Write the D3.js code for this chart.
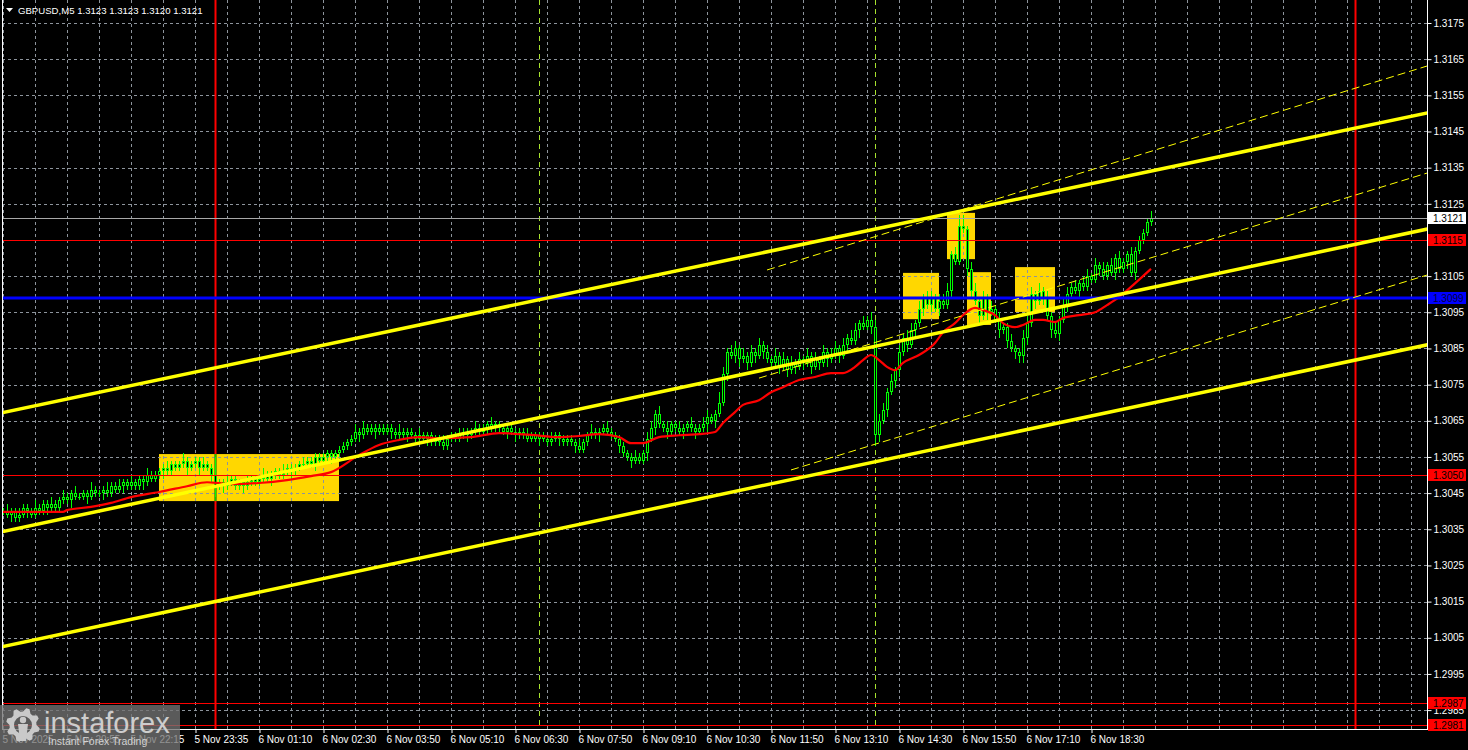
<!DOCTYPE html>
<html><head><meta charset="utf-8">
<script src="https://cdn.jsdelivr.net/npm/d3@7"></script>
<style>html,body{margin:0;padding:0;background:#000;overflow:hidden}svg{display:block}</style>
</head><body><svg id="c" width="1468" height="750"></svg>
<script>
// ---------------- DATA ----------------
const chartTitle = "GBPUSD,M5  1.3123 1.3123 1.3120 1.3121";
const basePrice = 1.3000;          // closes/wicks below are in pips above this
const firstOpen = 40;
const closes = [
  40,39,40,38,39,41,40,39, 41,40,42,41,42,41,43,44, 43,45,44,44,45,44,46,45, 45,46,45,47,46,47,48,47,
  48,47,49,48,50,49,50,51, 52,51,53,52,53,54,52,53, 54,52,53,52,50,47,48,47, 48,49,47,48,47,48,49,48,
  49,50,49,50,51,50,51,52, 51,52,53,53,54,53,55,54, 55,56,55,56,57,58,59,60, 62,61,63,62,63,62,63,62,
  63,62,61,62,61,62,61,60, 61,60,61,59,60,59,58,60, 61,60,61,62,61,62,63,62, 63,64,63,64,63,62,63,62,
  61,62,61,60,61,60,61,60, 59,60,61,60,59,60,59,58, 57,59,61,62,61,62,63,62, 61,60,58,56,55,54,55,54,
  56,60,63,67,64,63,62,64, 63,62,63,64,63,62,63,64, 66,65,67,70,78,84,83,85, 82,83,81,84,83,86,84,82,
  81,83,80,82,79,81,80,82, 81,83,80,82,81,84,82,83, 85,83,86,88,87,90,92,91, 93,91,61,65,68,73,76,79,
  84,88,86,90,92,96,99,97, 99,96,98,97,101,111,109,119, 118,107,101,98,94,99,95,96, 93,90,91,87,85,84,83,88,
  92,100,98,101,99,94,90,89, 93,97,100,102,101,103,102,105, 104,108,107,105,108,106,110,107, 109,111,106,112,115,117,120,121
];
const upWicks = [
  1,2,1,1,2,1,1,1,2,1,1,1,2,1,1,2, 1,1,2,1,1,1,2,1,1,1,2,1,1,2,1,1,
  2,1,1,1,2,1,1,1,1,2,1,1,1,2,1,1, 1,1,2,1,1,5,1,1,2,1,1,1,1,2,1,1,
  1,2,1,1,1,1,2,1,1,1,1,2,1,1,1,1, 1,1,1,1,1,1,1,1,2,1,2,1,1,1,1,1,
  1,1,1,2,1,1,1,1,2,1,1,1,1,1,2,1, 1,1,2,1,1,1,2,1,1,1,2,1,1,1,1,1,
  1,1,1,2,1,1,1,1,1,2,1,1,1,1,1,1, 2,1,1,2,1,1,1,2,1,1,1,1,1,1,2,1,
  1,2,2,1,2,1,2,1,1,2,1,1,2,1,1,2, 2,1,1,3,2,1,2,2,1,2,1,2,1,2,1,2,
  1,2,1,2,1,2,1,2,1,2,1,2,1,2,1,2, 2,1,2,1,2,2,1,2,1,2,2,2,2,1,2,1,
  2,1,2,2,1,2,1,2,2,1,2,2,2,1,2,3, 3,1,2,2,1,2,1,2,1,2,1,1,2,1,1,2,
  2,2,1,2,1,2,1,2,1,2,2,1,2,1,2,2, 1,2,1,2,1,2,1,2,1,1,2,1,1,1,1,2
];
const lowWicks = [
  1,1,2,1,1,1,2,1,1,1,1,2,1,1,1,1, 1,2,1,1,1,2,1,1,1,2,1,1,1,1,2,1,
  1,1,1,2,1,1,1,1,2,1,1,1,1,1,2,1, 1,2,1,1,2,3,1,2,1,1,1,1,2,1,1,1,
  1,1,1,2,1,1,1,1,2,1,1,1,1,1,2,1, 1,1,2,1,1,1,1,1,1,2,1,1,1,2,1,1,
  1,2,1,1,1,2,1,1,1,1,2,1,1,1,1,1, 1,1,1,1,2,1,1,1,1,2,1,1,1,1,2,1,
  2,1,1,1,1,1,2,1,1,1,1,2,1,1,1,2, 1,1,1,1,1,2,1,1,1,1,2,1,1,2,1,1,
  1,2,1,2,1,1,2,1,1,1,2,1,1,2,1,1, 2,1,2,1,1,2,1,2,2,1,2,1,2,1,2,1,
  2,1,2,1,2,1,2,1,2,1,2,1,2,1,2,1, 1,2,1,2,1,1,2,1,1,2,3,2,1,2,1,2,
  2,1,2,1,2,1,2,1,2,1,2,1,1,2,1,1, 1,2,2,1,2,1,2,1,1,2,1,2,1,2,2,2,
  2,1,2,1,2,1,2,1,2,1,2,1,1,2,1,1, 1,1,2,1,1,1,2,1,1,2,1,2,1,1,1,1
];
// moving average readings: [bar index, pips above basePrice]
const maReadings = [
  [0,39.8],[15,39.8],[16,40.3],[22,41.2],[27,42.3],[32,43.9],[39,45.3],[46,46.9],[51,48.0],[54,47.8],
  [57,47.5],[64,47.8],[71,48.6],[77,49.7],[82,50.8],[89,55.5],[94,58.3],[99,59.7],[104,60.5],[109,60.2],
  [117,60.5],[124,61.6],[132,61.1],[139,60.5],[144,60.8],[149,61.3],[154,60.5],[157,58.8],[160,58.8],[164,60.5],
  [169,61.0],[174,61.3],[178,61.9],[180,64.4],[183,67.4],[185,69.4],[189,70.7],[192,72.9],[195,74.3],[199,76.3],
  [203,77.1],[207,78.2],[210,78.2],[213,79.9],[215,81.8],[217,83.2],[219,81.8],[221,79.9],[223,79.0],[225,81.0],
  [229,83.2],[233,86.5],[235,89.5],[238,92.0],[240,94.2],[243,96.2],[245,95.6],[248,94.2],[250,92.0],[253,90.9],
  [255,91.5],[258,92.9],[260,92.9],[263,92.3],[265,93.4],[269,94.2],[273,95.0],[276,97.0],[279,99.2],[283,103.0],[287,107.0]
];
const timeLabels = ["5 Nov 2025","5 Nov 20:55","5 Nov 22:15","5 Nov 23:35","6 Nov 01:10","6 Nov 02:30",
  "6 Nov 03:50","6 Nov 05:10","6 Nov 06:30","6 Nov 07:50","6 Nov 09:10","6 Nov 10:30","6 Nov 11:50",
  "6 Nov 13:10","6 Nov 14:30","6 Nov 15:50","6 Nov 17:10","6 Nov 18:30"];
const timeLabelBars = [0,16,32,48,64,80,96,112,128,144,160,176,192,208,224,240,256,272];
const priceTicks = [1.2985,1.2995,1.3005,1.3015,1.3025,1.3035,1.3045,1.3055,1.3065,1.3075,1.3085,
  1.3095,1.3105,1.3115,1.3125,1.3135,1.3145,1.3155,1.3165,1.3175];
const levelPrices = [1.3121, 1.3115, 1.3099, 1.3050, 1.2987, 1.2981];
const levelKinds  = ["bid","red","blue","red","red","red"];
const daySeparatorBars = [53, 338];
const markerBars = [134, 218];
// zones: [fromBar, toBar, topPrice, bottomPrice]
const zones = [[39,84,1.30558,1.30428],[225,234,1.31059,1.30931],[236,243,1.31225,1.31097],
  [241,247,1.31061,1.30915],[253,263,1.31075,1.30951]];
// channel lines: [bar1, price1, bar2, price2]
const channelLines = [[0,1.30673,356,1.31501],[0,1.30344,356,1.31180],[0,1.30026,356,1.30860]];
const guideLines = [[191,1.31067,356,1.31631],[189,1.30768,356,1.31335],[197,1.30514,356,1.31053]];

// ---------------- DRAW ----------------
const W = 1468, H = 750;
const plotL = 2, plotR = 1427, plotB = 729;
const svg = d3.select("#c");
const x = d3.scaleLinear().domain([0, 356]).range([3, 1427]);
const y = d3.scaleLinear().domain([1.2985, 1.3175]).range([710.1, 23]);
const px = p => basePrice + p / 10000;
const font = "'Liberation Sans', Arial, sans-serif";
const rd = v => Math.round(v) + 0.5;

svg.append("rect").attr("width", W).attr("height", H).attr("fill", "#000");
svg.append("defs").append("clipPath").attr("id", "plot")
  .append("rect").attr("x", plotL).attr("y", 0).attr("width", plotR - plotL).attr("height", plotB);
const g = svg.append("g").attr("clip-path", "url(#plot)");

// zones (background)
g.selectAll("rect.zone").data(zones).join("rect").attr("class", "zone")
  .attr("x", d => x(d[0])).attr("width", d => x(d[1]) - x(d[0]))
  .attr("y", d => y(d[2])).attr("height", d => y(d[3]) - y(d[2]))
  .attr("fill", "#ffd700");

// grid
const gridColor = "#8d949c";
g.selectAll("line.hg").data(priceTicks).join("line")
  .attr("x1", plotL).attr("x2", plotR).attr("y1", d => rd(y(d))).attr("y2", d => rd(y(d)))
  .attr("stroke", gridColor).attr("stroke-width", 1).attr("stroke-dasharray", "3,3");
g.selectAll("line.vg").data(d3.range(0, 357, 8)).join("line")
  .attr("x1", d => rd(x(d))).attr("x2", d => rd(x(d))).attr("y1", 0).attr("y2", plotB)
  .attr("stroke", gridColor).attr("stroke-width", 1).attr("stroke-dasharray", "3,3");

// day separators
g.selectAll("line.sep").data(daySeparatorBars).join("line")
  .attr("x1", d => x(d) + 0.5).attr("x2", d => x(d) + 0.5).attr("y1", 0).attr("y2", plotB)
  .attr("stroke", "#ff0000").attr("stroke-width", 2);
// separator through zone renders green (MT4 background blending)
daySeparatorBars.forEach(b => zones.forEach(z => {
  if (b >= z[0] && b <= z[1]) {
    g.append("line").attr("x1", x(b) + 0.5).attr("x2", x(b) + 0.5)
      .attr("y1", y(z[2])).attr("y2", y(z[3])).attr("stroke", "#00d400").attr("stroke-width", 2);
  }
}));
// marker lines
g.selectAll("line.mk").data(markerBars).join("line")
  .attr("x1", d => rd(x(d))).attr("x2", d => rd(x(d))).attr("y1", 0).attr("y2", plotB)
  .attr("stroke", "#a6e22e").attr("stroke-width", 1).attr("stroke-dasharray", "5,4");

const levelStroke = {bid: "#a8a8a8", red: "#ff0000", blue: "#0000ff"};
const levelWidth = {bid: 1, red: 1, blue: 3};

// candles
const bars = closes.map((c, i) => {
  const o = i === 0 ? firstOpen : closes[i - 1];
  const top = Math.max(o, c), bot = Math.min(o, c);
  return {i, o, c, top, bot, hi: top + upWicks[i], lo: bot - lowWicks[i]};
});
const cg = g.append("g").attr("shape-rendering", "crispEdges");
bars.forEach(b => {
  const cx = Math.round(x(b.i));
  const yh = Math.round(y(px(b.hi))), yl = Math.round(y(px(b.lo)));
  const yt = Math.round(y(px(b.top))), yb = Math.round(y(px(b.bot)));
  cg.append("rect").attr("x", cx).attr("width", 1).attr("y", yh).attr("height", Math.max(1, yl - yh)).attr("fill", "#00ff00");
  const h = Math.max(1, yb - yt);
  cg.append("rect").attr("x", cx - 1).attr("width", 3).attr("y", yt).attr("height", h).attr("fill", "#00ff00");
  if (h > 2) cg.append("rect").attr("x", cx).attr("width", 1).attr("y", yt + 1).attr("height", h - 2).attr("fill", "#000");
});

// moving average
g.append("path").datum(maReadings)
  .attr("d", d3.line().x(d => x(d[0])).y(d => y(px(d[1]))).curve(d3.curveMonotoneX))
  .attr("fill", "none").attr("stroke", "#ff0000").attr("stroke-width", 2.2);

// levels
g.selectAll("line.lvl").data(levelPrices).join("line")
  .attr("x1", plotL).attr("x2", plotR)
  .attr("y1", (d, i) => levelKinds[i] === "blue" ? Math.round(y(d)) : rd(y(d)))
  .attr("y2", (d, i) => levelKinds[i] === "blue" ? Math.round(y(d)) : rd(y(d)))
  .attr("stroke", (d, i) => levelStroke[levelKinds[i]])
  .attr("stroke-width", (d, i) => levelWidth[levelKinds[i]]);

// channel lines (extended across the plot)
const extend = (l, b) => l[1] + (l[3] - l[1]) * (b - l[0]) / (l[2] - l[0]);
g.selectAll("line.ch").data(channelLines).join("line")
  .attr("x1", x(-2)).attr("y1", d => y(extend(d, -2)))
  .attr("x2", x(357)).attr("y2", d => y(extend(d, 357)))
  .attr("stroke", "#ffff00").attr("stroke-width", 3.5);
g.selectAll("line.gd").data(guideLines).join("line")
  .attr("x1", d => x(d[0])).attr("y1", d => y(d[1]))
  .attr("x2", d => x(357)).attr("y2", d => y(extend(d, 357)))
  .attr("stroke", "#ffff00").attr("stroke-width", 1).attr("stroke-dasharray", "8,4");

// borders
svg.append("line").attr("x1", 2.5).attr("x2", 2.5).attr("y1", 0).attr("y2", plotB + 0.5).attr("stroke", "#fff");
svg.append("line").attr("x1", plotR + 0.5).attr("x2", plotR + 0.5).attr("y1", 0).attr("y2", plotB + 0.5).attr("stroke", "#fff");
svg.append("line").attr("x1", 2).attr("x2", plotR + 1).attr("y1", plotB + 0.5).attr("y2", plotB + 0.5).attr("stroke", "#fff");

// right axis
const ay = svg.append("g").attr("transform", `translate(${plotR + 0.5},0)`)
  .call(d3.axisRight(y).tickValues(priceTicks).tickFormat(d3.format(".4f")).tickSize(4).tickPadding(2));
ay.select(".domain").remove();
ay.selectAll("line").attr("stroke", "#fff");
ay.selectAll("text").attr("fill", "#fff").attr("font-family", font).attr("font-size", "10px");

// level labels
const boxFill = {bid: "#ffffff", red: "#ff0000", blue: "#0000ff"};
const lb = svg.selectAll("g.lb").data(levelPrices).join("g")
  .attr("transform", d => `translate(${plotR + 1},${Math.round(y(d))})`);
lb.append("rect").attr("x", 0).attr("y", -6).attr("width", 38).attr("height", 12)
  .attr("fill", (d, i) => boxFill[levelKinds[i]]);
lb.append("text").attr("x", 5).attr("y", 4).text(d => d.toFixed(4))
  .attr("fill", (d, i) => levelKinds[i] === "blue" ? "#000040" : "#000")
  .attr("font-family", font).attr("font-size", "10px");

// bottom axis
const ax = svg.append("g").attr("transform", `translate(0,${plotB})`)
  .call(d3.axisBottom(x).tickValues(timeLabelBars).tickFormat((d, i) => timeLabels[i]).tickSize(4).tickPadding(3));
ax.select(".domain").remove();
ax.selectAll("line").attr("stroke", "#fff").attr("transform", "translate(0.5,0)");
ax.selectAll("text").attr("fill", "#fff").attr("font-family", font).attr("font-size", "10px")
  .attr("text-anchor", "start").attr("x", -1);

// title
svg.append("path").attr("d", "M6,8 L13,8 L9.5,12 Z").attr("fill", "#fff");
svg.append("text").attr("x", 18).attr("y", 14).text(chartTitle)
  .attr("fill", "#fff").attr("font-family", font).attr("font-size", "9.6px");

// watermark
const wm = svg.append("g");
wm.append("rect").attr("x", 0).attr("y", 705).attr("width", 180).attr("height", 45).attr("fill", "rgba(115,115,115,0.78)");
const gcx = 23, gcy = 725, teeth = 8;
const gearPts = [];
for (let k = 0; k < teeth * 4; k++) {
  const a = (k / (teeth * 4)) * Math.PI * 2 - Math.PI / 2;
  const r = (k % 4 === 1 || k % 4 === 2) ? 17 : 13.5;
  gearPts.push([gcx + r * Math.cos(a), gcy + r * Math.sin(a)]);
}
wm.append("path").attr("d", "M" + gearPts.map(p => p.join(",")).join("L") + "Z " +
  `M${gcx + 9},${gcy} A9,9 0 1,0 ${gcx - 9},${gcy} A9,9 0 1,0 ${gcx + 9},${gcy} Z`)
  .attr("fill", "#c9c9c9").attr("fill-rule", "evenodd");
wm.append("circle").attr("cx", gcx).attr("cy", gcy - 5).attr("r", 3.2).attr("fill", "#c9c9c9");
wm.append("path").attr("d", `M${gcx - 5},${gcy - 1} L${gcx + 5},${gcy - 1} L${gcx + 3},${gcy + 16} L${gcx - 3},${gcy + 16} Z`).attr("fill", "#c9c9c9");
wm.append("text").attr("x", 44).attr("y", 733).text("instaforex")
  .attr("fill", "#cdcdcd").attr("font-family", font).attr("font-size", "29px");
wm.append("text").attr("x", 48).attr("y", 745).text("Instant Forex Trading")
  .attr("fill", "#d2d2d2").attr("font-family", font).attr("font-size", "10.5px");
</script></body></html>
